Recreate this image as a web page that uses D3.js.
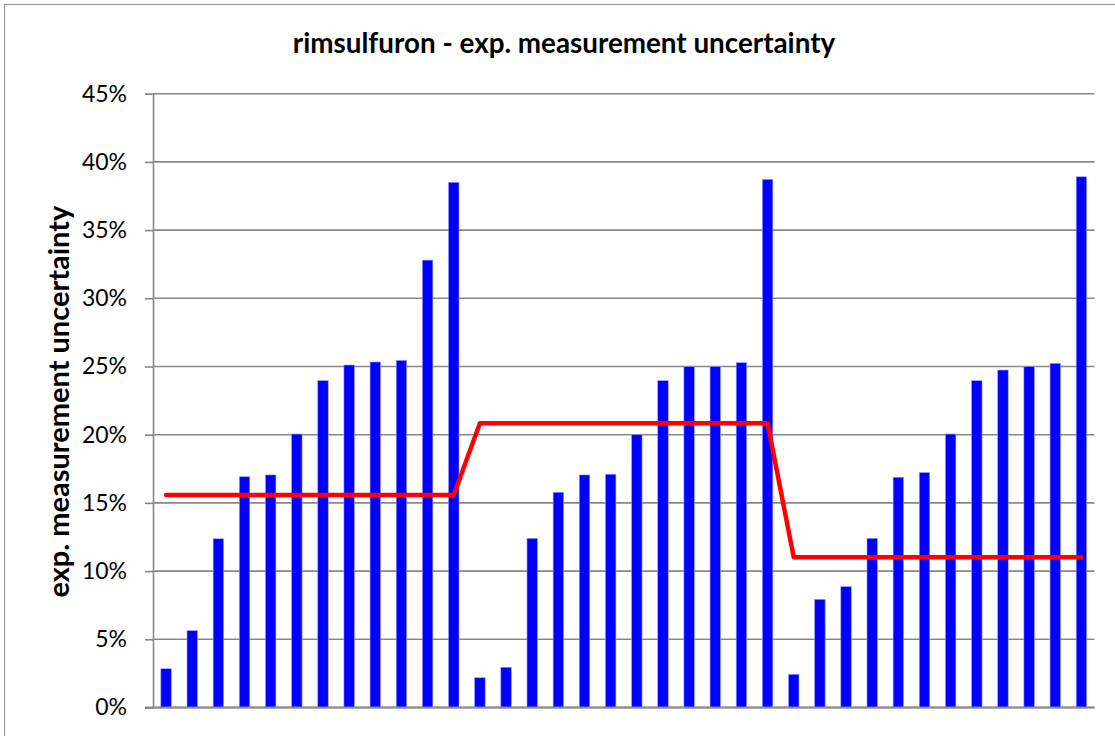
<!DOCTYPE html>
<html>
<head>
<meta charset="utf-8">
<script src="https://cdn.jsdelivr.net/npm/d3@7"></script>
<style>
  html, body { margin: 0; padding: 0; background: #fff; }
  svg { display: block; }
</style>
</head>
<body>
<svg id="chart" width="1115" height="736"></svg>
<script>
// ---- data ----
const categories = d3.range(1, 37).map(String);
const uncertainty = [
  0.0284, 0.0563, 0.1237, 0.1692, 0.1705, 0.2005, 0.2396, 0.2511, 0.2533, 0.2545, 0.3280, 0.3850,
  0.0218, 0.0295, 0.1240, 0.1578, 0.1705, 0.1710, 0.2000, 0.2396, 0.2499, 0.2499, 0.2528, 0.3872,
  0.0243, 0.0793, 0.0886, 0.1240, 0.1688, 0.1722, 0.2005, 0.2396, 0.2474, 0.2499, 0.2523, 0.3891
];
const meanLevel = [
  0.1558, 0.1558, 0.1558, 0.1558, 0.1558, 0.1558, 0.1558, 0.1558, 0.1558, 0.1558, 0.1558, 0.1558,
  0.2084, 0.2084, 0.2084, 0.2084, 0.2084, 0.2084, 0.2084, 0.2084, 0.2084, 0.2084, 0.2084, 0.2084,
  0.1101, 0.1101, 0.1101, 0.1101, 0.1101, 0.1101, 0.1101, 0.1101, 0.1101, 0.1101, 0.1101, 0.1101
];
const yTicks = [0, 0.05, 0.10, 0.15, 0.20, 0.25, 0.30, 0.35, 0.40, 0.45];
const titleText = "rimsulfuron - exp. measurement uncertainty";
const yTitleText = "exp. measurement uncertainty";

// ---- layout ----
const svg = d3.select("#chart");
const plot = { left: 153, right: 1094.5, top: 93.7, bottom: 707.5 };
const gridColor = "#878787";
const fontFamily = "Lato, 'Open Sans', sans-serif";

// outer chart border
svg.append("rect")
  .attr("x", 4.5).attr("y", 4.5)
  .attr("width", 1200).attr("height", 800)
  .attr("fill", "none").attr("stroke", "#9a9a9a").attr("stroke-width", 1.2);

const x = d3.scaleBand()
  .domain(categories)
  .range([plot.left, plot.right])
  .paddingInner(0.6)
  .paddingOuter(0.3);

const y = d3.scaleLinear()
  .domain([0, 0.45])
  .range([plot.bottom, plot.top]);

// gridlines
svg.append("g")
  .selectAll("line")
  .data(yTicks)
  .join("line")
  .attr("x1", plot.left).attr("x2", plot.right)
  .attr("y1", d => y(d)).attr("y2", d => y(d))
  .attr("stroke", gridColor).attr("stroke-width", 1.6);

// y axis
const yAxis = d3.axisLeft(y)
  .tickValues(yTicks)
  .tickFormat(d3.format(".0%"))
  .tickSize(8)
  .tickPadding(18);

const gy = svg.append("g")
  .attr("transform", `translate(${plot.left},0)`)
  .call(yAxis);
gy.select(".domain").attr("stroke", gridColor).attr("stroke-width", 1.6);
gy.selectAll(".tick line").attr("stroke", gridColor).attr("stroke-width", 1.6);
gy.selectAll(".tick text")
  .attr("fill", "#000")
  .style("font-family", fontFamily)
  .style("font-size", "23px");

// bars
svg.append("g")
  .selectAll("rect")
  .data(uncertainty)
  .join("rect")
  .attr("x", (d, i) => x(categories[i]))
  .attr("width", x.bandwidth())
  .attr("y", d => y(d))
  .attr("height", d => y(0) - y(d))
  .attr("fill", "#0000ff")
  .attr("stroke", "#9a9aff")
  .attr("stroke-width", 0.6);

// bottom axis line
svg.append("line")
  .attr("x1", plot.left - 8).attr("x2", plot.right)
  .attr("y1", y(0)).attr("y2", y(0))
  .attr("stroke", gridColor).attr("stroke-width", 1.8);

// red line series
const line = d3.line()
  .x((d, i) => x(categories[i]) + x.bandwidth() / 2)
  .y(d => y(d));

svg.append("path")
  .datum(meanLevel)
  .attr("d", line)
  .attr("fill", "none")
  .attr("stroke", "#ff0000")
  .attr("stroke-width", 4.5)
  .attr("stroke-linejoin", "round")
  .attr("stroke-linecap", "round");

// title
svg.append("text")
  .attr("x", 564).attr("y", 53)
  .attr("text-anchor", "middle")
  .style("font-family", fontFamily)
  .style("font-weight", "bold")
  .style("font-size", "27.8px")
  .text(titleText);

// y title
svg.append("text")
  .attr("transform", `translate(69,${(plot.top + plot.bottom) / 2 + 1}) rotate(-90)`)
  .attr("text-anchor", "middle")
  .style("font-family", fontFamily)
  .style("font-weight", "bold")
  .style("font-size", "29px")
  .text(yTitleText);
</script>
</body>
</html>
